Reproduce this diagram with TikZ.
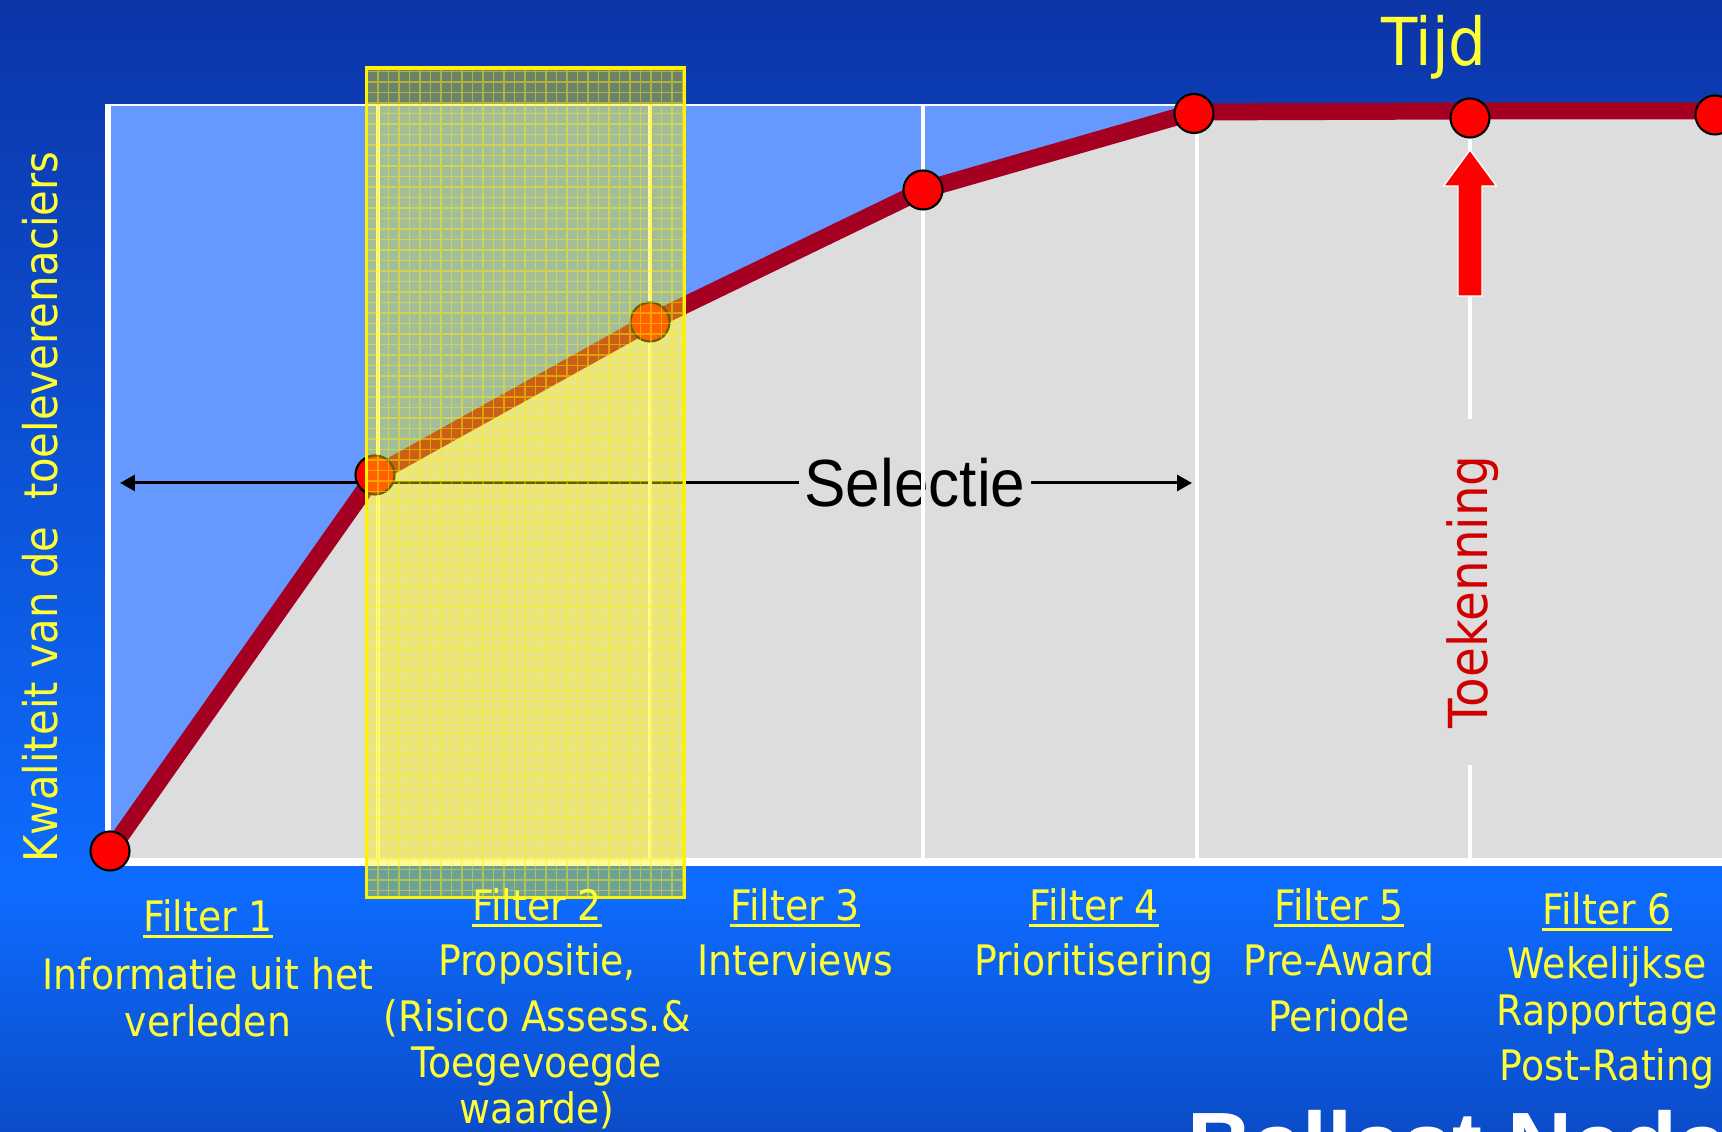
\documentclass[tikz,border=0pt]{standalone}
\usepackage{fontspec}
\setmainfont{DejaVu Sans}
\newfontfamily\tahoma[FakeStretch=0.90]{DejaVu Sans}
\newfontfamily\arialn[FakeStretch=0.93]{Liberation Sans}
\newfontfamily\arial{Liberation Sans}
\usetikzlibrary{arrows.meta}
\definecolor{slideblue}{RGB}{12,53,168}
\definecolor{brightblue}{RGB}{13,108,255}
\definecolor{lowblue}{RGB}{11,76,200}
\definecolor{plotblue}{RGB}{102,153,255}
\definecolor{plotgray}{RGB}{221,221,221}
\definecolor{curvered}{RGB}{165,0,33}
\definecolor{lblyellow}{RGB}{255,255,51}
\definecolor{awardred}{RGB}{208,0,0}
\newcommand\ulbl[1]{\setbox0=\hbox{#1}\rlap{\rule[-1.6pt]{\wd0}{0.85pt}}\box0}
\newcommand\lblines[1]{\begin{tabular}[t]{@{}c@{}}#1\end{tabular}}

\begin{document}
\begin{tikzpicture}[>={Triangle[length=0.15cm,width=0.16cm]}]
\tikzstyle{gridline}=[white,line width=0.04cm]
\tikzstyle{dot}=[circle,fill=red,draw=black,line width=0.6pt,minimum size=0.39cm,inner sep=0]
\tikzstyle{lbl}=[text=lblyellow,font=\tahoma\fontsize{11.95}{13.1}\selectfont,anchor=base,inner sep=0]
\useasboundingbox (0,0) rectangle (17.22,11.32);
\shade[top color=slideblue,bottom color=brightblue] (0,2.45) rectangle (17.22,11.32);
\shade[top color=brightblue,bottom color=lowblue] (0,0) rectangle (17.22,2.45);

\coordinate (p0) at (1.10,2.81);
\coordinate (p1) at (3.75,6.57);
\coordinate (p2) at (6.50,8.10);
\coordinate (p3) at (9.23,9.42);
\coordinate (p4) at (11.94,10.20);
\coordinate (p5) at (14.70,10.21);
\coordinate (p6) at (17.15,10.21);
\coordinate (pend) at (17.30,10.21);

% plot area
\fill[plotgray] (1.08,2.70) rectangle (17.22,10.27);
\fill[plotblue] (1.08,10.27) -- (p0) -- (p1) -- (p2) -- (p3) -- (p4) -- (p5) -- (p6) -- (pend) -- (17.30,10.27) -- cycle;

% selectie
\node[font=\arialn\fontsize{19}{22}\selectfont,inner xsep=0.05cm] (sel) at (9.15,6.49) {Selectie};
\coordinate (selL) at (1.20,6.49);
\coordinate (selR) at (11.92,6.49);
\draw[->,line width=0.03cm] (sel.west) -- (selL);
\draw[->,line width=0.03cm] (sel.east) -- (selR);

\foreach \x in {3.78,6.50,9.23,11.97}
  \draw[gridline] (\x,10.27) -- (\x,2.70);
\draw[white,line width=0.025cm] (1.08,10.27) -- (11.94,10.27);
\draw[white,line width=0.06cm] (1.08,10.28) -- (1.08,2.70);
\draw[white,line width=0.08cm] (1.05,2.70) -- (17.22,2.70);

% curve
\draw[curvered,line width=0.17cm] (p0) -- (p1) -- (p2) -- (p3) -- (p4) -- (p5) -- (p6) -- (pend);
\foreach \p/\pos in {0/{(1.10,2.81)},1/{(3.75,6.57)},2/{(6.50,8.10)},3/{(9.23,9.42)},4/{(11.94,10.185)},5/{(14.70,10.14)},6/{(17.15,10.17)}}
  \node[dot] (dot\p) at \pos {};

% toekenning
\coordinate (awardtip) at (14.70,9.82);
\coordinate (awardbase) at (14.70,8.36);
\draw[gridline] (dot5.south) -- (awardtip);
\fill[red,draw=white,line width=0.4pt] (14.58,8.36) -- (14.58,9.46) -- (14.435,9.46) -- (awardtip) -- (14.965,9.46) -- (14.82,9.46) -- (14.82,8.36) -- cycle;
\node[rotate=90,text=awardred,font=\tahoma\fontsize{15.3}{18}\selectfont,inner xsep=0.36cm,inner ysep=0] (toek) at (14.73,5.40) {Toekenning};
\draw[gridline] (awardbase) -- (toek.east -| awardbase);
\draw[gridline] (toek.west -| awardbase) -- (14.70,2.70);

% filter 2 band
\begin{scope}
\clip (3.665,2.345) rectangle (6.845,10.64);
\fill[yellow,opacity=0.4] (3.665,2.345) rectangle (6.845,10.64);
\draw[yellow,opacity=0.45,line width=0.3pt,step=0.105cm] (3.665,2.345) grid (6.845,10.64);
\end{scope}
\draw[yellow,line width=1pt] (3.665,2.345) rectangle (6.845,10.64);

% labels
\node[text=lblyellow,font=\tahoma\fontsize{18.8}{22}\selectfont,anchor=base] (tijd) at (14.34,10.66) {Tijd};
\node[rotate=90,text=lblyellow,font=\tahoma\fontsize{13.2}{16}\selectfont] (ylbl) at (0.40,6.25) {Kwaliteit van de\ \ toeleverenaciers};
\node[lbl] (f1) at (2.08,2.00) {\lblines{\ulbl{Filter 1}\\[3.4pt]Informatie uit het\\verleden}};
\node[lbl] (f2) at (5.37,2.11) {\lblines{\ulbl{Filter 2}\\[2.55pt]Propositie,\\[2.8pt](Risico Assess.\&\\Toegevoegde\\waarde)}};
\node[lbl] (f3) at (7.95,2.11) {\lblines{\ulbl{Filter 3}\\[2.55pt]Interviews}};
\node[lbl] (f4) at (10.94,2.11) {\lblines{\ulbl{Filter 4}\\[2.55pt]Prioritisering}};
\node[lbl] (f5) at (13.39,2.11) {\lblines{\ulbl{Filter 5}\\[2.55pt]Pre-Award\\[2.8pt]Periode}};
\node[lbl] (f6) at (16.07,2.07) {\lblines{\ulbl{Filter 6}\\[2.26pt]Wekelijkse\\Rapportage\\[2.55pt]Post-Rating}};

\begin{scope}
\clip (0,0) rectangle (17.22,11.32);
\node[white,font=\arial\bfseries\fontsize{25.6}{30}\selectfont,anchor=base west,inner sep=0] (firm) at (11.865,-0.44) {Ballast Nedam};
\end{scope}

\end{tikzpicture}
\end{document}
